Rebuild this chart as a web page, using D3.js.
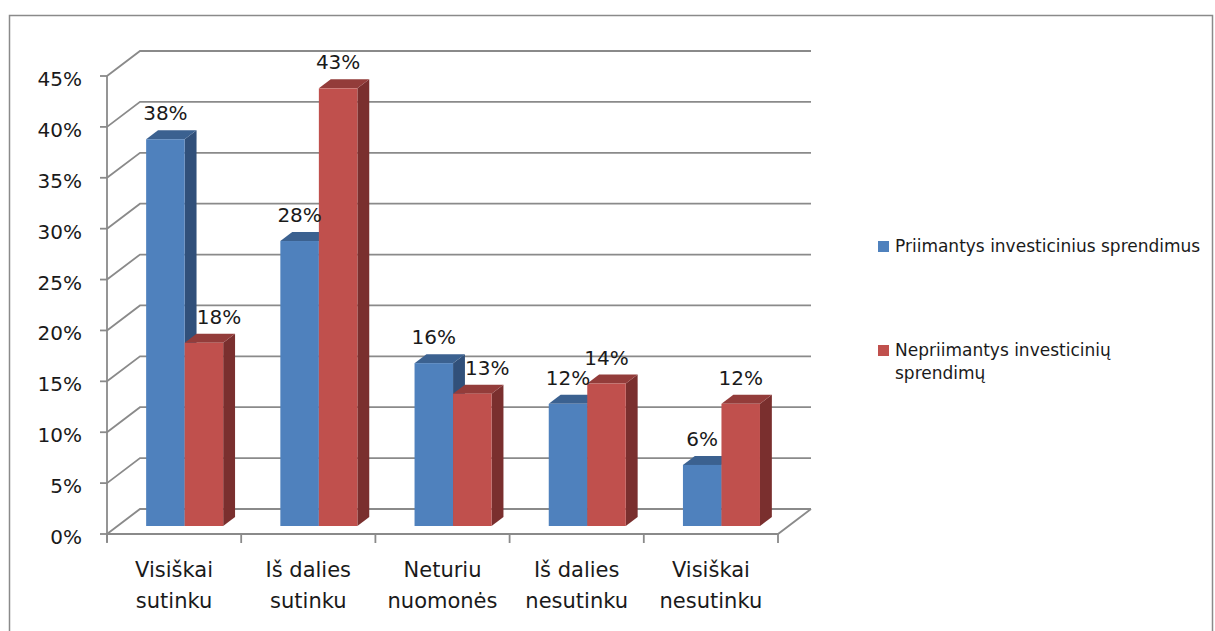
<!DOCTYPE html>
<html>
<head>
<meta charset="utf-8">
<script src="https://cdn.jsdelivr.net/npm/d3@7"></script>
<style>
  html, body { margin: 0; padding: 0; background: #fff; }
  svg { display: block; }
  text { font-family: "DejaVu Sans", Verdana, sans-serif; fill: #1a1a1a; }
</style>
</head>
<body>
<svg id="chart" width="1215" height="631"></svg>
<script>
// Survey answers (two-line category labels)
const categories = [
  ["Visiškai", "sutinku"],
  ["Iš dalies", "sutinku"],
  ["Neturiu", "nuomonės"],
  ["Iš dalies", "nesutinku"],
  ["Visiškai", "nesutinku"]
];
const seriesNames = [
  ["Priimantys investicinius sprendimus"],
  ["Nepriimantys investicinių", "sprendimų"]
];
// Percent of respondents in each group
const investorsValues    = [38, 28, 16, 12, 6];
const nonInvestorsValues = [18, 43, 13, 14, 12];
const yTicks = [0, 5, 10, 15, 20, 25, 30, 35, 40, 45];

const series = [investorsValues, nonInvestorsValues];
const palette = [
  { front: "#4f81bd", top: "#3b6190", side: "#31507a" },
  { front: "#c0504d", top: "#933c3a", side: "#7a2f2e" }
];

const svg = d3.select("#chart");

// Outer chart frame
svg.append("rect")
  .attr("x", 9.5).attr("y", 15.5)
  .attr("width", 1203).attr("height", 700)
  .attr("fill", "none").attr("stroke", "#8a8a8a").attr("stroke-width", 1.5);

// Oblique 3D projection: depth offset of the back wall
const depthX = 33, depthY = -25;
const left = 107, right = 778;

const y = d3.scaleLinear().domain([0, 45]).range([534, 76]);
const x = d3.scaleBand()
  .domain(d3.range(categories.length))
  .range([left, right])
  .paddingInner(0.426)
  .paddingOuter(0.213);
const xs = d3.scaleBand().domain([0, 1]).range([0, x.bandwidth()]);

const grid = svg.append("g")
  .attr("fill", "none").attr("stroke", "#8a8a8a").attr("stroke-width", 1.8);

// Back-wall gridlines with the side-wall diagonals
yTicks.forEach(t => {
  const yy = y(t);
  grid.append("path")
    .attr("d", `M${left},${yy}L${left + depthX},${yy + depthY}L${right + depthX},${yy + depthY}`);
});
// Floor front edge and right diagonal
grid.append("path")
  .attr("d", `M${left},${y(0)}L${right},${y(0)}L${right + depthX},${y(0) + depthY}`);

// Value axis line and ticks
const axisG = svg.append("g").attr("stroke", "#8a8a8a").attr("stroke-width", 1.8);
axisG.append("line").attr("x1", left).attr("x2", left).attr("y1", y(45)).attr("y2", y(0) + 8);
yTicks.forEach(t => {
  axisG.append("line").attr("x1", left - 7).attr("x2", left)
    .attr("y1", y(t)).attr("y2", y(t));
});
// Category axis ticks at band boundaries
const step = x.step();
d3.range(categories.length + 1).forEach(i => {
  const xx = left + i * step;
  axisG.append("line").attr("x1", xx).attr("x2", xx)
    .attr("y1", y(0)).attr("y2", y(0) + 9);
});

// Value axis labels
svg.append("g").selectAll("text").data(yTicks).join("text")
  .attr("x", 82).attr("y", d => y(d) + 10)
  .attr("text-anchor", "end")
  .attr("font-size", 20)
  .text(d => d + "%");

// Category labels
const catG = svg.append("g");
categories.forEach((lines, i) => {
  const cx = x(i) + x.bandwidth() / 2;
  const t = catG.append("text").attr("text-anchor", "middle").attr("font-size", 21);
  lines.forEach((ln, j) => {
    t.append("tspan").attr("x", cx).attr("y", 577 + j * 31).text(ln);
  });
});

// Bars: placed mid-depth on the floor
const f0 = 0.32, f1 = 0.68;
const ox = f0 * depthX, oy = f0 * depthY;
const bdx = (f1 - f0) * depthX, bdy = (f1 - f0) * depthY;

const barsG = svg.append("g");
const labelsG = svg.append("g");
categories.forEach((_, i) => {
  series.forEach((vals, s) => {
    const v = vals[i];
    const x0 = x(i) + xs(s) + ox;
    const x1 = x0 + xs.bandwidth();
    const yb = y(0) + oy;
    const yt = y(v) + oy;
    const c = palette[s];
    // side face
    barsG.append("path")
      .attr("d", `M${x1},${yb}L${x1 + bdx},${yb + bdy}L${x1 + bdx},${yt + bdy}L${x1},${yt}Z`)
      .attr("fill", c.side);
    // top face
    barsG.append("path")
      .attr("d", `M${x0},${yt}L${x1},${yt}L${x1 + bdx},${yt + bdy}L${x0 + bdx},${yt + bdy}Z`)
      .attr("fill", c.top);
    // front face
    barsG.append("rect")
      .attr("x", x0).attr("y", yt)
      .attr("width", xs.bandwidth()).attr("height", yb - yt)
      .attr("fill", c.front);

    // Value label; the second series' label moves right when the first bar is taller
    const nudge = (s === 1 && series[0][i] > v) ? 15 : 0;
    labelsG.append("text")
      .attr("x", (x0 + x1) / 2 + nudge)
      .attr("y", yt - 19)
      .attr("text-anchor", "middle")
      .attr("font-size", 20)
      .text(v + "%");
  });
});

// Legend
const legend = svg.append("g");
const legendRows = [252, 356];
seriesNames.forEach((lines, s) => {
  const by = legendRows[s];
  legend.append("rect")
    .attr("x", 878).attr("y", by - 11)
    .attr("width", 11).attr("height", 11)
    .attr("fill", palette[s].front);
  const t = legend.append("text").attr("font-size", 17);
  lines.forEach((ln, j) => {
    t.append("tspan").attr("x", 895).attr("y", by + j * 23).text(ln);
  });
});
</script>
</body>
</html>
